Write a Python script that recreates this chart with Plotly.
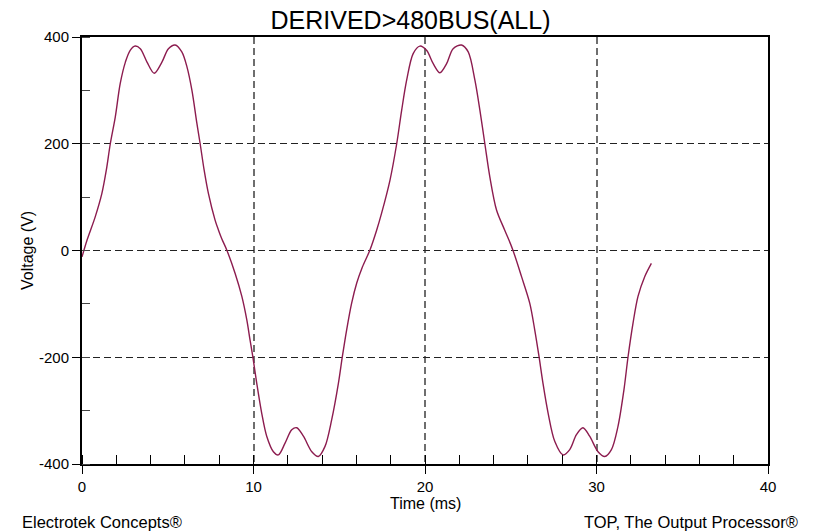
import plotly.graph_objects as go

# Instantaneous voltage on the derived 480 V bus (two cycles of a distorted 60 Hz wave)
time_ms = [
    0.00, 0.30, 0.77, 1.16, 1.42, 1.65, 1.94, 2.23, 2.53, 2.81, 3.10, 3.40,
    3.79, 4.21, 4.66, 5.04, 5.43, 5.82, 6.12, 6.41, 6.70, 6.89, 7.12, 7.37,
    7.76, 7.96, 8.15, 8.44, 8.93, 9.32, 9.61, 9.80, 9.96, 10.19, 10.48, 10.77,
    11.16, 11.45, 11.84, 12.23, 12.52, 12.91, 13.40, 13.78, 14.17, 14.56, 14.95,
    15.18, 15.43, 15.72, 16.02, 16.35, 16.79, 17.18, 17.47, 17.96, 18.35, 18.64,
    18.93, 19.31, 19.70, 20.09, 20.48, 20.87, 21.26, 21.64, 22.13, 22.52, 22.91,
    23.20, 23.49, 23.78, 24.17, 24.65, 25.10, 25.63, 26.11, 26.40, 26.65, 26.88,
    27.18, 27.57, 28.05, 28.44, 28.83, 29.21, 29.60, 30.09, 30.48, 30.87, 31.25,
    31.60, 31.84, 32.13, 32.42, 32.81, 33.20,
]
voltage_v = [
    -12, 20, 63, 107, 151, 200, 250, 313, 353, 375, 383, 378,
    353, 332, 353, 378, 385, 372, 344, 300, 238, 200, 151, 107,
    57, 38, 22, 1, -43, -86, -130, -168, -199, -249, -305, -348,
    -377, -383, -361, -336, -332, -348, -377, -386, -367, -317, -249,
    -199, -149, -99, -61, -31, 1, 38, 70, 132, 200, 263,
    319, 369, 383, 375, 350, 333, 350, 378, 385, 372, 319,
    263, 200, 138, 76, 38, 3, -49, -99, -149, -199, -249,
    -305, -358, -383, -373, -345, -332, -348, -377, -386, -373, -330,
    -261, -199, -136, -86, -49, -24,
]

x_ticks = [0, 10, 20, 30, 40]
y_ticks = [-400, -200, 0, 200, 400]

FONT = "Liberation Sans, Arial, sans-serif"
TRACE_COLOR = "#8c1c4f"

fig = go.Figure(
    go.Scatter(
        x=time_ms,
        y=voltage_v,
        mode="lines",
        line=dict(color=TRACE_COLOR, width=1.4, shape="spline", smoothing=0.9),
        hoverinfo="x+y",
        showlegend=False,
    )
)

axis_common = dict(
    showline=True,
    linecolor="black",
    linewidth=2,
    mirror=True,
    zeroline=False,
    ticks="outside",
    tickcolor="black",
    tickwidth=1.4,
    tickfont=dict(family=FONT, size=15, color="black"),
    griddash="7px,4px",
)

fig.update_xaxes(
    range=[0, 40],
    tickmode="array",
    tickvals=x_ticks,
    ticktext=[str(v) for v in x_ticks],
    ticklen=8,
    showgrid=True,
    gridcolor="#6e6e6e",
    gridwidth=1.8,
    minor=dict(dtick=2, ticks="inside", ticklen=9, tickcolor="black",
               tickwidth=1.3, showgrid=False),
    **axis_common,
)
fig.update_yaxes(
    range=[-400, 400],
    tickmode="array",
    tickvals=y_ticks,
    ticktext=[str(v) for v in y_ticks],
    ticklen=8,
    showgrid=True,
    gridcolor="#222222",
    gridwidth=1.2,
    minor=dict(dtick=100, ticks="inside", ticklen=8, tickcolor="#444444",
               tickwidth=1.3, showgrid=False),
    **axis_common,
)

W, H = 816, 531
ML, MR, MT, MB = 82, 48, 37, 67
PW, PH = W - ML - MR, H - MT - MB


def px_to_paper(px, py):
    return (px - ML) / PW, (H - MB - py) / PH


annotations = []
ax, ay = px_to_paper(425, 503.5)
annotations.append(dict(text="Time (ms)", x=ax, y=ay, xref="paper", yref="paper",
                        xanchor="center", yanchor="middle", showarrow=False,
                        font=dict(family=FONT, size=16, color="black")))
vx, vy = px_to_paper(27, 251)
annotations.append(dict(text="Voltage (V)", x=vx, y=vy, xref="paper", yref="paper",
                        xanchor="center", yanchor="middle", showarrow=False,
                        textangle=-90,
                        font=dict(family=FONT, size=16, color="black")))
lx, ly = px_to_paper(20, 521.5)
annotations.append(dict(text="Electrotek Concepts®", x=lx, y=ly, xref="paper", yref="paper",
                        xanchor="left", yanchor="middle", showarrow=False,
                        font=dict(family=FONT, size=16.5, color="black")))
rx, ry = px_to_paper(800, 521.5)
annotations.append(dict(text="TOP, The Output Processor®", x=rx, y=ry, xref="paper", yref="paper",
                        xanchor="right", yanchor="middle", showarrow=False,
                        font=dict(family=FONT, size=16.5, color="black")))

fig.update_layout(
    width=W,
    height=H,
    margin=dict(l=ML, r=MR, t=MT, b=MB),
    paper_bgcolor="white",
    plot_bgcolor="white",
    title=dict(
        text="DERIVED>480BUS(ALL)",
        x=410.5 / W,
        xref="container",
        xanchor="center",
        y=1 - 20 / H,
        yref="container",
        yanchor="middle",
        font=dict(family=FONT, size=25, color="black"),
    ),
    annotations=annotations,
)

fig.write_html("out.html")
